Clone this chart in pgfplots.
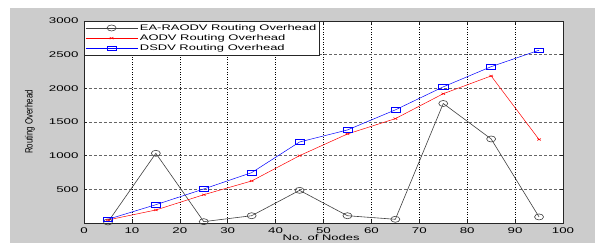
\documentclass[border=0pt]{standalone}
\usepackage{fontspec}
\usepackage{pgfplots}
\pgfplotsset{compat=1.18}
\setmainfont{Liberation Sans}
\newfontfamily\widefont[FakeStretch=1.6]{Liberation Sans}
\newfontfamily\narrowfont[FakeStretch=0.75]{Liberation Sans}
\definecolor{bgray}{HTML}{CCCCCC}
\begin{document}
\begin{tikzpicture}[x=1pt,y=1pt]
\useasboundingbox (0,0) rectangle (595,243);
\fill[white] (0,0) rectangle (595,243);
\fill[bgray] (10,0) rectangle (595,235);
\begin{axis}[
  at={(84pt,20pt)}, anchor=south west,
  scale only axis, width=479pt, height=202pt,
  xmin=0, xmax=100, ymin=0, ymax=3000,
  xtick={0,10,...,100}, ytick={500,1000,...,3000},
  axis background/.style={fill=white},
  axis line style={black!85, line width=0.6pt},
  tick style={black!85, line width=0.5pt},
  tick align=inside, major tick length=3pt,
  /pgf/number format/assume math mode=true,
  /pgf/number format/1000 sep={},
  tick label style={font=\widefont\fontsize{8.3}{9}\selectfont},
  yticklabel style={xshift=-2pt},
  xticklabel style={yshift=-1pt},
  xmajorgrids, ymajorgrids,
  x grid style={black, dash pattern=on 1pt off 1.5pt, line width=0.5pt},
  y grid style={black!60, dash pattern=on 3pt off 2pt, line width=0.5pt},
  xlabel={No. of Nodes},
  xlabel style={font=\widefont\fontsize{8.1}{9}\selectfont, at={(axis description cs:0.495,-0.073)}, anchor=center},
  ylabel={Routing Overhead},
  ylabel style={font=\narrowfont\fontsize{10.5}{12}\selectfont, at={(axis description cs:-0.1127,0.5)}, anchor=center, rotate=0},
  legend style={at={(0,1)}, anchor=north west, draw=black!85, fill=white,
    font=\widefont\fontsize{8.1}{9}\selectfont, inner sep=1pt, row sep=-1.2pt,
    legend cell align=left, line width=0.6pt},
  legend image code/.code={\draw[mark repeat=2,mark phase=2] plot coordinates {(0pt,0pt) (26pt,0pt) (52pt,0pt)};},
]
\addplot[black!75, line width=0.6pt, mark=o, mark size=3pt, mark options={xscale=1.5, solid}]
  coordinates {(5,15)(15,1035)(25,20)(35,108)(45,485)(55,108)(65,55)(75,1775)(85,1248)(95,90)};
\addlegendentry{EA-RAODV Routing Overhead}
\addplot[red, line width=0.5pt, mark=x, mark size=2pt, mark options={xscale=1.3, yscale=0.7, solid}]
  coordinates {(5,45)(15,193)(25,420)(35,624)(45,1000)(55,1322)(65,1550)(75,1920)(85,2184)(95,1240)};
\addlegendentry{AODV Routing Overhead}
\addplot[blue, line width=0.5pt, mark=square, mark size=2.4pt, mark options={xscale=1.9, solid}]
  coordinates {(5,55)(15,272)(25,505)(35,748)(45,1203)(55,1382)(65,1680)(75,2022)(85,2322)(95,2566)};
\addlegendentry{DSDV Routing Overhead}
\end{axis}
\end{tikzpicture}
\end{document}
